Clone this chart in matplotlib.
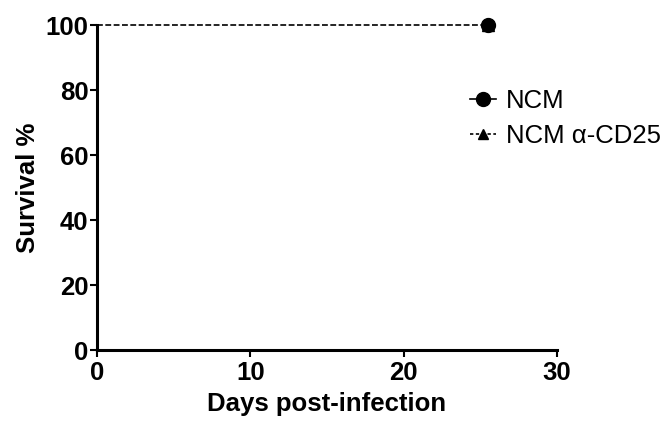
import matplotlib
matplotlib.use("Agg")
import matplotlib.pyplot as plt
from matplotlib.lines import Line2D

plt.rcParams['font.family'] = ['Liberation Sans', 'DejaVu Sans']

days = [0, 25.5]
ncm_surv = [100, 100]
cd25_surv = [100, 100]
series_names = ["NCM", "NCM α-CD25"]
x_ticks = [0, 10, 20, 30]
y_ticks = [0, 20, 40, 60, 80, 100]

fig = plt.figure(figsize=(6.64, 4.26), dpi=100)
ax = fig.add_axes([0.146, 0.178, 0.693, 0.763])

# NCM alpha-CD25: dashed line with triangle censor mark
ax.plot(days, cd25_surv, color='black', linestyle=(0, (3.5, 1.5)), linewidth=1.2,
        marker='^', markersize=8, markevery=[1], zorder=3, clip_on=False)
# NCM: circle censor mark at end
ax.plot(days[-1:], ncm_surv[-1:], color='black', linestyle='none',
        marker='o', markersize=10, zorder=4, clip_on=False)

ax.set_xlim(0, 30)
ax.set_ylim(0, 100)
ax.set_xticks(x_ticks)
ax.set_yticks(y_ticks)
for s in ['top', 'right']:
    ax.spines[s].set_visible(False)
for s in ['left', 'bottom']:
    ax.spines[s].set_linewidth(2.2)
ax.tick_params(axis='both', which='major', direction='out', length=5, width=1.5,
               labelsize=18.5, pad=1)
ax.tick_params(axis='x', pad=3)
for lab in ax.get_xticklabels() + ax.get_yticklabels():
    lab.set_fontweight('bold')

ax.set_xlabel("Days post-infection", fontsize=18.5, fontweight='bold', labelpad=5)
ax.set_ylabel("Survival %", fontsize=18.5, fontweight='bold', labelpad=4)

handles = [
    Line2D([0], [0], color='black', linestyle='-', linewidth=1.2, marker='o', markersize=10),
    Line2D([0], [0], color='black', linestyle=(0, (2, 1.5)), linewidth=1.2, marker='^', markersize=7),
]
leg = fig.legend(handles, series_names, loc='upper left',
                 bbox_to_anchor=(0.708, 0.792), frameon=False, fontsize=18.5,
                 handlelength=1.0, handletextpad=0.4, labelspacing=0.45,
                 borderpad=0, borderaxespad=0)

fig.savefig("out.png", dpi=100)
